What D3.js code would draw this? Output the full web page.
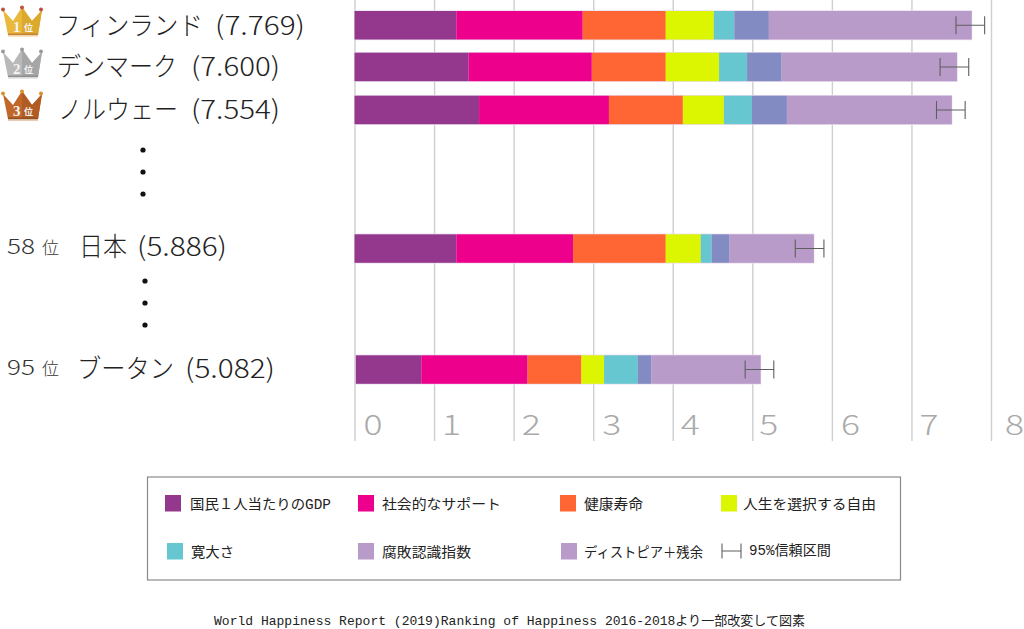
<!DOCTYPE html>
<html>
<head>
<meta charset="utf-8">
<script src="https://cdn.jsdelivr.net/npm/d3@7"></script>
<style>
  body { margin: 0; background: #fff; }
  svg { display: block; font-family: "Noto Sans CJK JP", "Noto Sans", sans-serif; }
</style>
</head>
<body>
<svg id="chart" width="1024" height="629"></svg>
<script>
// values
var countries = ["フィンランド", "デンマーク", "ノルウェー", "日本", "ブータン"]
var scores = ["7.769", "7.600", "7.554", "5.886", "5.082"]
var ranks = ["1", "2", "3", "58", "95"]
var factors = ["国民１人当たりのGDP", "社会的なサポート", "健康寿命", "人生を選択する自由", "寛大さ", "腐敗認識指数", "ディストピア＋残余"]

var gdp = [1.28, 1.434, 1.566, 1.28, 0.824]
var social = [1.588, 1.549, 1.632, 1.467, 1.335]
var health = [1.044, 0.929, 0.929, 1.165, 0.676]
var freedom = [0.604, 0.67, 0.516, 0.44, 0.286]
var generosity = [0.258, 0.352, 0.352, 0.137, 0.423]
var corruption = [0.434, 0.434, 0.44, 0.225, 0.17]
var dystopia = [2.55, 2.205, 2.073, 1.06, 1.375]
var barStart = [0, 0, 0, 0, 0.016]
var ciLow = [7.56, 7.36, 7.315, 5.54, 4.91]
var ciHigh = [7.92, 7.72, 7.675, 5.90, 5.27]
var axisTicks = [0, 1, 2, 3, 4, 5, 6, 7, 8]

var barColors = ["#93388c", "#ec008c", "#ff6633", "#dcf500", "#66c7d0", "#838cc2", "#b99bc9"]
var legendColors = ["#93388c", "#ec008c", "#ff6633", "#dcf500", "#66c7d0", "#b99bc9", "#b99bc9"]

var series = [gdp, social, health, freedom, generosity, corruption, dystopia]

var svg = d3.select("#chart")
var x = d3.scaleLinear().domain([0, 8]).range([354.5, 991])
var rowTop = d3.scaleOrdinal().domain(countries).range([11, 52.7, 95.7, 234.3, 355.3])
var barH = 28.5

// grid + tick labels
var tickShift = [18, 17, 17, 18, 17, 16, 18, 17, 23]
var axis = svg.append("g")
  .attr("transform", "translate(0,441)")
  .call(d3.axisTop(x).tickValues(axisTicks).tickSize(441).tickFormat(d3.format("d")))
axis.select(".domain").remove()
axis.attr("font-family", null)
axis.selectAll("line").attr("stroke", "#cfcfcf").attr("stroke-width", 1.4)
axis.selectAll("text")
  .attr("x", (d, i) => tickShift[i])
  .attr("y", -6)
  .attr("dy", 0)
  .attr("text-anchor", "middle")
  .attr("fill", "#aaaaaa")
  .attr("font-size", 28)
  .attr("font-weight", 300)
  .attr("textLength", 19)
  .attr("lengthAdjust", "spacingAndGlyphs")

// stacked bars
countries.forEach(function(name, i) {
  var row = svg.append("g")
  var left = barStart[i]
  row.append("rect")
    .attr("x", x(left) - 0.5)
    .attr("y", rowTop(name) - 0.7)
    .attr("width", x(left + d3.sum(series, s => s[i])) - x(left) + 1)
    .attr("height", barH + 1.4)
    .attr("fill", "#e9dcef")
  series.forEach(function(s, j) {
    row.append("rect")
      .attr("x", x(left))
      .attr("y", rowTop(name))
      .attr("width", x(left + s[i]) - x(left))
      .attr("height", barH)
      .attr("fill", barColors[j])
    left += s[i]
  })
})

function errorBar(g, x1, x2, y, capH) {
  g.append("path")
    .attr("d", d3.line()([[x1, y - capH], [x1, y + capH]]) + d3.line()([[x1, y], [x2, y]]) + d3.line()([[x2, y - capH], [x2, y + capH]]))
    .attr("fill", "none")
    .attr("stroke", "#5f5f5f")
    .attr("stroke-width", 1.1)
}

var ciGroup = svg.append("g")
countries.forEach(function(name, i) {
  errorBar(ciGroup, x(ciLow[i]), x(ciHigh[i]), rowTop(name) + barH / 2, 9)
})

// country labels: name and score stretched apart, the original face is wider than what we have
var nameBox = [[56, 147], [57, 120], [58, 120], [79, 48], [77, 97]]
var scoreBox = [[215, 90], [191, 89], [191, 89], [137, 90], [185, 90]]
var labelDrop = [9.5, 9, 9, 7.5, 8]
countries.forEach(function(name, i) {
  var base = rowTop(name) + barH / 2 + labelDrop[i]
  svg.append("text")
    .attr("x", nameBox[i][0]).attr("y", base)
    .attr("font-size", 26).attr("font-weight", 300).attr("fill", "#222")
    .attr("textLength", nameBox[i][1]).attr("lengthAdjust", "spacingAndGlyphs")
    .text(name)
  svg.append("text")
    .attr("x", scoreBox[i][0]).attr("y", base)
    .attr("font-size", 26).attr("font-weight", 300).attr("fill", "#222")
    .attr("textLength", scoreBox[i][1]).attr("lengthAdjust", "spacingAndGlyphs")
    .text("(" + scores[i] + ")")
})

// rank text for the two rows without a crown
countries.forEach(function(name, i) {
  if (i < 3) return
  var base = rowTop(name) + barH / 2 + 5.5
  svg.append("text").attr("x", 7).attr("y", base)
    .attr("font-size", 21).attr("font-weight", 300).attr("fill", "#333")
    .attr("textLength", 28).attr("lengthAdjust", "spacingAndGlyphs")
    .text(ranks[i])
  svg.append("text").attr("x", 42).attr("y", base)
    .attr("font-size", 17).attr("font-weight", 300).attr("fill", "#333")
    .text("位")
})

// crowns
var crownFill = ["#e8b93a", "#b9b9b9", "#c2672a"]
var crownDark = ["#dba92e", "#a6a6a6", "#b05c24"]
var crownBand = ["#c9803a", "#8f8f8f", "#96501f"]
var crownBall = ["#c0503a", "#9a9a9a", "#d9902f"]
var crownY = [8, 50, 92]
var crownShape = [[3, 2], [8, 27], [38, 27], [42, 2], [32, 13], [22, -1], [13, 13]]
var crownRight = [[22, -1], [32, 13], [42, 2], [38, 27], [22, 27]]
crownY.forEach(function(top, i) {
  var c = svg.append("g").attr("transform", "translate(0," + top + ")")
  c.append("path").attr("d", d3.line()(crownShape) + "Z").attr("fill", crownFill[i])
  c.append("path").attr("d", d3.line()(crownRight) + "Z").attr("fill", crownDark[i])
  c.append("rect").attr("x", 8).attr("y", 25.5).attr("width", 30).attr("height", 1.8).attr("fill", crownBand[i])
  c.append("rect").attr("x", 8).attr("y", 27.5).attr("width", 30).attr("height", 1.5).attr("fill", crownFill[i]).attr("opacity", 0.35)
  c.selectAll("circle").data([3, 22, 41]).join("circle")
    .attr("cx", d => d).attr("cy", (d, k) => k == 1 ? -0.5 : 1.5).attr("r", 2)
    .attr("fill", crownBall[i])
  c.append("text").attr("x", 13).attr("y", 24).attr("fill", "#f4f4f4")
    .attr("font-size", 15).attr("font-weight", 700).attr("font-family", "Liberation Serif").text(ranks[i])
  c.append("text").attr("x", 24).attr("y", 23).attr("fill", "#f4f4f4")
    .attr("font-size", 9).attr("font-weight", 700).text("位")
})

// vertical ellipsis
var dots = svg.append("g")
dots.selectAll("circle").data([[143, 150], [143, 172], [143, 194], [145, 281], [145, 303], [145, 325]])
  .join("circle").attr("cx", d => d[0]).attr("cy", d => d[1]).attr("r", 2.6).attr("fill", "#111")

// legend
svg.append("rect").attr("x", 147.5).attr("y", 477).attr("width", 753).attr("height", 103)
  .attr("fill", "#fff").attr("stroke", "#8a8a8a").attr("stroke-width", 1.2)

var legendSwatch = [[165, 495], [358, 495], [560, 495], [721, 495], [167, 543], [358, 543], [561, 543]]
var legendTextX = [190, 382, 584, 743, 191, 382, 584]
var legendTextLen = [141, 119, 59, 133, 43, 89, 119]
var monoFont = "'Liberation Mono', 'Noto Sans CJK JP', monospace"
factors.forEach(function(name, i) {
  svg.append("rect")
    .attr("x", legendSwatch[i][0]).attr("y", legendSwatch[i][1])
    .attr("width", 16).attr("height", 16.5)
    .attr("fill", legendColors[i])
  svg.append("text")
    .attr("x", legendTextX[i]).attr("y", legendSwatch[i][1] + 14)
    .attr("font-size", 14).attr("fill", "#222").attr("font-family", monoFont)
    .attr("textLength", legendTextLen[i]).attr("lengthAdjust", "spacingAndGlyphs")
    .text(name)
})
errorBar(svg, 722, 741, 551, 7.5)
svg.append("text").attr("x", 749).attr("y", 555).attr("font-size", 14).attr("fill", "#222").attr("font-family", monoFont)
  .attr("textLength", 82).attr("lengthAdjust", "spacingAndGlyphs").text("95%信頼区間")

svg.append("text").attr("x", 214).attr("y", 625).attr("font-size", 13).attr("fill", "#222").attr("font-family", monoFont)
  .attr("textLength", 591).attr("lengthAdjust", "spacingAndGlyphs")
  .text("World Happiness Report (2019)Ranking of Happiness 2016-2018より一部改変して図素")
</script>
</body>
</html>
